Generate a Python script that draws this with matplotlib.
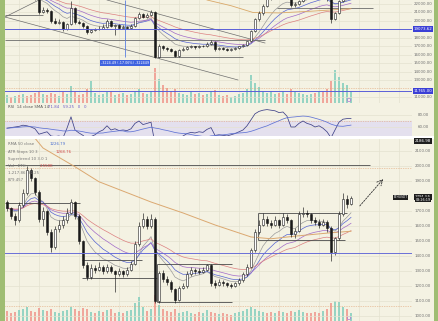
import matplotlib.pyplot as plt
import numpy as np
import pandas as pd
from matplotlib.patches import Rectangle
from matplotlib.transforms import blended_transform_factory

# ---------------- top pane: BTC ----------------
btc_open0 = 23000
btc_close = [23200, 23000, 23300, 23100, 23400, 23200, 23000, 22800, 21000, 21300,
             21200, 20000, 19800, 19900, 19000, 19600, 21500, 19900, 19800, 19400,
             18700, 18900, 19000, 19100, 19300, 20000, 19400, 19500, 19200, 19300,
             19200, 19400, 20300, 20800, 20500, 20700, 21100, 15800, 17100, 16800,
             16700, 16500, 15900, 16600, 16700, 16900, 17000, 16900, 17100, 17000,
             17300, 17500, 16700, 16800, 16700, 16600, 16700, 16800, 17000, 17200,
             17600, 18800, 20200, 20900, 21800, 22600, 23000, 23200, 23100, 23300,
             22800, 21900, 22000, 22300, 22900, 23100, 23300, 23100, 23400, 23200,
             22600, 20200, 20900, 22300, 23000, 23200, 23300]
btc_high = [23400, 23300, 23500, 23400, 23600, 23500, 23300, 23100, 22900, 21600,
            21500, 21300, 20300, 20200, 20000, 19800, 22300, 21600, 20100, 19900,
            19500, 19100, 19200, 19400, 19600, 20200, 20100, 19700, 19600, 19500,
            19400, 19600, 20500, 21000, 20900, 20900, 21300, 21200, 17300, 17200,
            16900, 16800, 16600, 16700, 16900, 17100, 17200, 17100, 17200, 17200,
            17500, 17800, 17600, 16900, 16900, 16800, 16800, 16900, 17100, 17300,
            17700, 18900, 20400, 21200, 22000, 22900, 23300, 23400, 23400, 23500,
            23400, 22900, 22200, 22500, 23000, 23300, 23500, 23400, 23600, 23500,
            23300, 22700, 21100, 22500, 23200, 23400, 23500]
btc_low = [22900, 22800, 22900, 22900, 23000, 23000, 22800, 22500, 20800, 20900,
           20900, 19800, 19600, 19600, 18800, 18900, 19500, 19700, 19600, 19200,
           18500, 18600, 18800, 18900, 19000, 19200, 19300, 18300, 19000, 19100,
           19000, 19100, 19300, 20200, 20300, 20400, 20600, 15700, 15700, 16600,
           16500, 16300, 15800, 15800, 16500, 16600, 16800, 16700, 16800, 16900,
           16900, 17200, 16500, 16600, 16600, 16500, 16500, 16600, 16700, 16900,
           17100, 17500, 18700, 20000, 20700, 21700, 22500, 22800, 22900, 23000,
           22600, 21700, 21700, 21900, 22200, 22800, 23000, 22900, 23000, 23000,
           22400, 19800, 20100, 20800, 22200, 22900, 23100]
btc_vol = [8, 6, 7, 8, 9, 7, 8, 10, 12, 9,
           8, 10, 9, 7, 11, 9, 17, 12, 8, 9,
           14, 22, 10, 8, 9, 11, 12, 8, 9, 10,
           8, 9, 11, 14, 10, 9, 12, 35, 24, 18,
           15, 12, 14, 10, 9, 8, 11, 9, 10, 8,
           9, 12, 13, 8, 7, 8, 6, 7, 9, 10,
           14, 28, 20, 16, 12, 10, 11, 9, 10, 12,
           9, 14, 11, 10, 9, 8, 9, 10, 11, 12,
           14, 22, 33, 26, 20, 18, 12]
btc_rsi = [58, 59, 60, 61, 63, 62, 60, 57, 48, 50,
           52, 45, 44, 45, 42, 58, 77, 55, 50, 46,
           40, 44, 47, 52, 55, 62, 55, 57, 54, 55,
           54, 57, 66, 70, 64, 66, 68, 32, 40, 38,
           37, 35, 30, 40, 45, 49, 51, 50, 52, 51,
           56, 59, 46, 47, 46, 45, 47, 49, 52, 55,
           62, 72, 82, 86, 88, 89, 88, 87, 84, 85,
           78, 60, 60, 66, 70, 66, 64, 60, 62, 58,
           52, 42, 55, 68, 73, 74, 74]
btc_ma200_bar = [50, 56, 61.5, 68, 76, 86]
btc_ma200 = [22470, 21800, 21000, 20950, 21150, 21450]
btc_ticks = [22000, 21000, 20000, 18000, 17000, 16000, 15000, 14000, 13000, 11000]
btc_blue_levels = [19073.62, 11765.00]
btc_hlines = [(17760, -0.5, 64.5), (15760, 37.5, 59), (21530, 67.5, 91.5), (20706, -0.5, 9)]
btc_trends = [((25, 22470), (64.5, 17410)), ((-0.5, 20470), (57.75, 13060)),
              ((-0.5, 20470), (8, 22470))]
rsi_ticks = [80, 60]

# ---------------- bottom pane: ETH ----------------
eth_open0 = 1760
eth_close = [1720, 1670, 1640, 1740, 1820, 1975, 1920, 1830, 1650, 1700,
             1560, 1460, 1580, 1610, 1640, 1690, 1760, 1670, 1500, 1340,
             1260, 1320, 1310, 1330, 1300, 1330, 1300, 1280, 1300, 1280,
             1310, 1350, 1480, 1600, 1650, 1600, 1650, 1100, 1290, 1250,
             1230, 1180, 1110, 1190, 1200, 1280, 1310, 1300, 1295, 1310,
             1340, 1220, 1210, 1230, 1220, 1210, 1200, 1220, 1240, 1280,
             1330, 1440, 1560, 1610, 1650, 1620, 1610, 1640, 1610, 1660,
             1640, 1550, 1570, 1680, 1690, 1680, 1640, 1630, 1610, 1630,
             1590, 1430, 1520, 1680, 1780, 1750, 1790]
eth_high = [1775, 1730, 1690, 1760, 1850, 2000, 1990, 1930, 1840, 1730,
            1710, 1580, 1600, 1640, 1670, 1720, 1780, 1770, 1680, 1510,
            1360, 1350, 1340, 1360, 1340, 1350, 1340, 1310, 1320, 1310,
            1330, 1370, 1500, 1630, 1690, 1670, 1680, 1660, 1300, 1310,
            1270, 1240, 1190, 1200, 1220, 1300, 1330, 1320, 1320, 1330,
            1350, 1345, 1240, 1250, 1240, 1230, 1220, 1230, 1255, 1295,
            1345, 1455, 1580, 1640, 1690, 1670, 1640, 1670, 1650, 1690,
            1680, 1650, 1590, 1700, 1730, 1710, 1690, 1660, 1650, 1650,
            1640, 1600, 1530, 1700, 1820, 1810, 1800]
eth_low = [1700, 1650, 1610, 1630, 1730, 1810, 1900, 1810, 1630, 1600,
           1540, 1430, 1450, 1560, 1590, 1620, 1680, 1650, 1480, 1320,
           1240, 1250, 1290, 1300, 1280, 1290, 1290, 1160, 1270, 1260,
           1270, 1300, 1340, 1470, 1590, 1580, 1590, 1090, 1090, 1230,
           1210, 1160, 1090, 1100, 1180, 1190, 1270, 1280, 1280, 1285,
           1300, 1200, 1190, 1200, 1200, 1195, 1190, 1195, 1210, 1230,
           1270, 1320, 1430, 1550, 1600, 1600, 1590, 1600, 1590, 1600,
           1620, 1530, 1520, 1560, 1660, 1660, 1620, 1610, 1590, 1600,
           1560, 1370, 1410, 1510, 1670, 1720, 1740]
eth_vol = [10, 8, 9, 11, 12, 14, 10, 9, 13, 11,
           10, 12, 9, 8, 10, 11, 14, 12, 10, 13,
           12, 9, 8, 10, 9, 11, 12, 8, 9, 8,
           10, 11, 18, 24, 14, 10, 12, 26, 16, 12,
           10, 9, 12, 8, 9, 10, 8, 7, 9, 8,
           11, 9, 8, 7, 8, 7, 6, 8, 9, 10,
           12, 14, 12, 10, 9, 8, 9, 8, 10, 9,
           8, 10, 9, 11, 9, 8, 8, 9, 8, 10,
           12, 18, 20, 19, 14, 12, 8]
eth_ma200_bar = [7, 9, 17, 23, 36, 44, 52, 61, 66, 73, 81, 86]
eth_ma200 = [2185, 2120, 1995, 1895, 1760, 1687, 1607, 1527, 1515, 1535, 1555, 1565]
eth_ticks = [2100, 2000, 1900, 1700, 1600, 1500, 1400, 1300, 1200, 1100, 1000]
eth_blue_level = 1418
eth_hlines = [(2007, -0.5, 90.75), (1751, -0.5, 18.25), (1373, 18.75, 33.75), (1253, 18.75, 37.5),
              (1347, 37.5, 56.25), (1095, 37.5, 56.25), (1684, 62.75, 85), (1507, 62.75, 84.5)]
eth_vlines = [(37.5, 1095, 1347), (62.75, 1507, 1684)]
eth_arrow = ((87.75, 1720), (94.5, 1927))

W, H = 439, 321
BG = '#f4f2e3'
GRID = '#e4e2d0'
MA_SPANS = [8, 13, 21, 34]
MA_COLORS = ['#9a9a9a', '#5563d2', '#a16ac8', '#dc8080']

fig = plt.figure(figsize=(W / 100, H / 100), dpi=100)
fig.patch.set_facecolor('#9fbd73')


def px_rect(x0, y0, x1, y1, color):
    fig.add_artist(Rectangle((x0 / W, 1 - y1 / H), (x1 - x0) / W, (y1 - y0) / H,
                             transform=fig.transFigure, facecolor=color, edgecolor='none', zorder=-5))


def px_axes(x0, y0, x1, y1):
    ax = fig.add_axes([x0 / W, 1 - y1 / H, (x1 - x0) / W, (y1 - y0) / H])
    ax.set_facecolor('none')
    for s in ax.spines.values():
        s.set_visible(False)
    ax.tick_params(length=0, labelleft=False, labelbottom=False)
    ax.set_xticks([])
    ax.set_yticks([])
    ax.set_xlim(-0.5, 101.25)
    return ax


def candles(ax, o0, close, high, low):
    c = np.array(close, float)
    o = np.r_[o0, c[:-1]]
    x = np.arange(len(c))
    up = c >= o
    span = ax.get_ylim()[1] - ax.get_ylim()[0]
    ax.vlines(x, low, high, color='#1a1a1a', lw=0.45, zorder=3)
    ax.bar(x, np.maximum(np.abs(c - o), span * 0.004), bottom=np.minimum(o, c), width=0.5,
           color=np.where(up, 'white', '#1a1a1a'), edgecolor='#1a1a1a', lw=0.4, zorder=4)
    for span_, col in zip(MA_SPANS, MA_COLORS):
        ax.plot(x, pd.Series(c).ewm(span=span_, adjust=False).mean(), color=col, lw=0.5, zorder=2)
    return up


def volume(ax, vol, up, top):
    x = np.arange(len(vol))
    ax.bar(x, vol, width=0.62, color=np.where(up, '#86cfbe', '#f0998f'), alpha=0.85)
    ax.set_ylim(0, top)
    for xv in np.arange(3, 101, 5):
        ax.axvline(xv, color=GRID, lw=0.5, zorder=0)


def right_labels(ax, ticks, fmt='{:.2f}'):
    tr = blended_transform_factory(ax.transAxes, ax.transData)
    for t in ticks:
        ax.axhline(t, color=GRID, lw=0.5, zorder=0)
        ax.text(1.027, t, fmt.format(t), transform=tr, fontsize=2.9, color='#707070',
                ha='center', va='center', clip_on=False)


def box_label(ax, y, s, fc, x=1.027, fs=2.9):
    tr = blended_transform_factory(ax.transAxes, ax.transData)
    ax.text(x, y, s, transform=tr, fontsize=fs, color='white', ha='center', va='center',
            clip_on=False, bbox=dict(boxstyle='square,pad=0.25', fc=fc, ec='none'), zorder=6)


# backgrounds
px_rect(5, 0, 434, 135.5, BG)
px_rect(5, 135.5, 434, 138.5, 'white')
px_rect(5, 138.5, 434, 321, BG)

# ---- top chart ----
ax_bv = px_axes(5, 0, 412, 103)
ax_b = px_axes(5, 0, 412, 103)
ax_b.set_ylim(10350, 22470)
up_b = candles(ax_b, btc_open0, btc_close, btc_high, btc_low)
volume(ax_bv, btc_vol, up_b, 103)
right_labels(ax_b, btc_ticks)
for lv in btc_blue_levels:
    ax_b.axhline(lv, color='#5a5fd8', lw=0.7, zorder=5)
    box_label(ax_b, lv, f'{lv:.2f}', '#3b3fd6')
for p, a, b in btc_hlines:
    ax_b.hlines(p, a, b, color='#6b6b6b', lw=0.6, zorder=2)
for (a, pa), (b, pb) in btc_trends:
    ax_b.plot([a, b], [pa, pb], color='#6e6e6e', lw=0.5, zorder=2)
ax_b.plot(btc_ma200_bar, btc_ma200, color='#d9a868', lw=0.6, zorder=2)
ax_b.axhline(12118, color='#e0a070', lw=0.5, ls=(0, (1, 1.5)), zorder=1)
ax_b.vlines(29.5, 15760, 22470, color='#5a7fe0', lw=0.6, zorder=5)
ax_b.text(29.5, 15060, '-3224.49 (-17.06%) -322449', fontsize=2.4, color='white', ha='center',
          va='center', bbox=dict(boxstyle='square,pad=0.35', fc='#3f63e0', ec='none'), zorder=6)
ax_bv.scatter([85.5], [3], s=6, facecolor='none', edgecolor='#b07ad8', lw=0.5, zorder=5)

# RSI
ax_r = px_axes(5, 103, 412, 135.5)
ax_r.set_ylim(45.8, 100)
ax_r.axhspan(30, 70, color='#e4e0ee', zorder=0)
ax_r.axhline(70, color='#e0a070', lw=0.5, ls=(0, (1, 1.5)), zorder=1)
right_labels(ax_r, rsi_ticks)
xr = np.arange(len(btc_rsi))
ax_r.plot(xr, btc_rsi, color='#3e4188', lw=0.55, zorder=3)
ax_r.plot(xr, pd.Series(btc_rsi).rolling(14, min_periods=1).mean(), color='#5f72d4', lw=0.55, zorder=3)
fig.text(8 / W, 1 - 107 / H, 'RSI  14 close SMA 14', fontsize=2.8, color='#555555', va='center')
fig.text(48 / W, 1 - 107 / H, '71.84   59.25   0   0', fontsize=2.8, color='#6a5ac8', va='center')

# ---- bottom chart ----
ax_ev = px_axes(5, 139, 412, 321)
ax_e = px_axes(5, 139, 412, 321)
ax_e.set_ylim(966.7, 2180)
up_e = candles(ax_e, eth_open0, eth_close, eth_high, eth_low)
volume(ax_ev, eth_vol, up_e, 182)
right_labels(ax_e, eth_ticks)
ax_e.axhline(eth_blue_level, color='#6a6fd8', lw=0.7, zorder=5)
for p, a, b in eth_hlines:
    ax_e.hlines(p, a, b, color='#4a4a4a', lw=0.6, zorder=2)
for xv, a, b in eth_vlines:
    ax_e.vlines(xv, a, b, color='#4a4a4a', lw=0.6, zorder=2)
ax_e.plot(eth_ma200_bar, eth_ma200, color='#dba870', lw=0.7, zorder=2)
ax_e.axhline(1985, color='#e0a070', lw=0.5, ls=(0, (1, 1.5)), zorder=1)
ax_e.axhline(1067, color='#e0a070', lw=0.5, ls=(0, (1, 1.5)), zorder=1)
(a0, p0), (a1, p1) = eth_arrow
ax_e.annotate('', xy=(a1, p1), xytext=(a0, p0),
              arrowprops=dict(arrowstyle='->', ls=(0, (2, 1.5)), lw=0.6, color='#333333'))
box_label(ax_e, 2167, '2186.98', '#1e1e1e')
box_label(ax_e, 1796, '1791.55', '#1e1e1e')
box_label(ax_e, 1776, '03:26:19', '#1e1e1e', fs=2.4)
box_label(ax_e, 1791, 'ETHUSDT', '#1e1e1e', x=0.972, fs=2.2)
ax_ev.scatter([85.5], [3], s=6, facecolor='none', edgecolor='#b07ad8', lw=0.5, zorder=5)

legend = [(144, 'RMA 50 close', '1226.79', '#4a6fd0'),
          (152, 'ATR Stops 10 3', '1268.76', '#d04a4a'),
          (159, 'Supertrend 10 3.0 1', '', '#999999'),
          (166, 'Vol · ETH', '2.558K', '#d04a4a'),
          (173, '1,217.86  91.25', '', '#999999'),
          (180, '879.457', '', '#999999')]
for y, label, val, col in legend:
    fig.text(8 / W, 1 - y / H, label, fontsize=2.8, color='#777777', va='center')
    if val:
        fig.text((12 + 3.1 * len(label)) / W, 1 - y / H, val, fontsize=2.8, color=col, va='center')

fig.savefig('out.png', dpi=100, facecolor=fig.get_facecolor())
